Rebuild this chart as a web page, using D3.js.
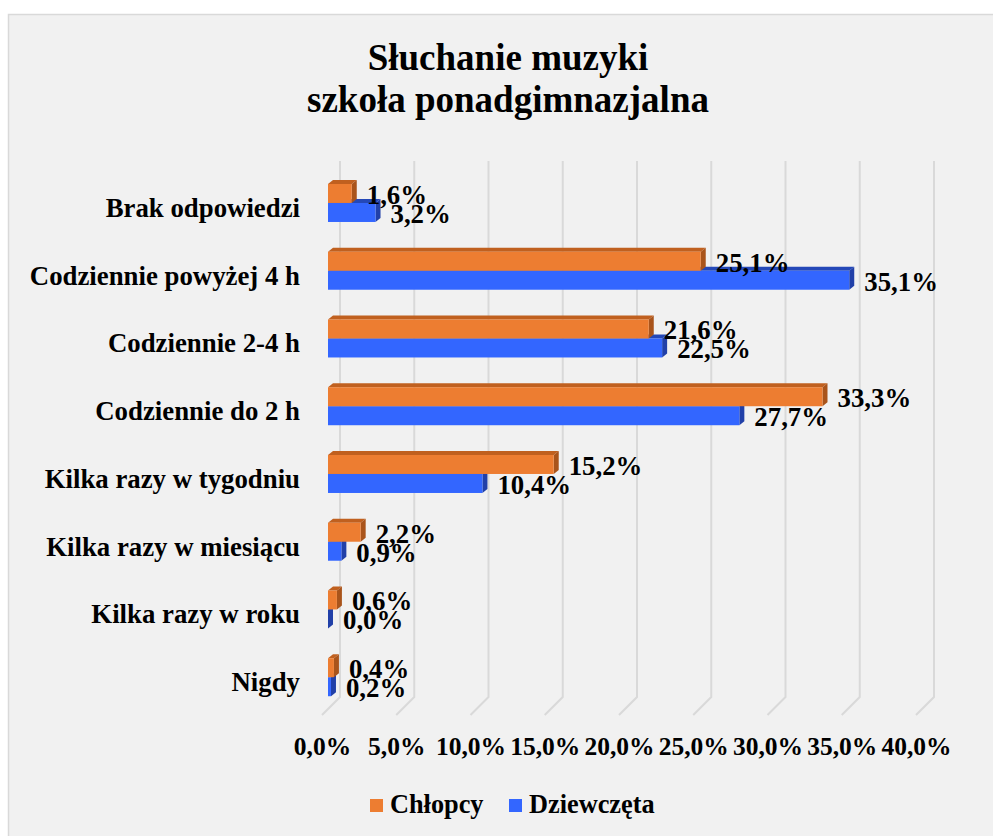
<!DOCTYPE html>
<html>
<head>
<meta charset="utf-8">
<script src="https://cdnjs.cloudflare.com/ajax/libs/d3/7.8.5/d3.min.js"></script>
<style>
  body { margin: 0; background: #fff; }
  text { font-family: "Liberation Serif", "Times New Roman", serif; font-weight: bold; fill: #000; }
</style>
</head>
<body>
<svg id="chart" width="993" height="836"></svg>
<script>
const categories = [
  "Brak odpowiedzi",
  "Codziennie powyżej 4 h",
  "Codziennie 2-4 h",
  "Codziennie do 2 h",
  "Kilka razy w tygodniu",
  "Kilka razy w miesiącu",
  "Kilka razy w roku",
  "Nigdy"
];
const chlopcy = [1.6, 25.1, 21.6, 33.3, 15.2, 2.2, 0.6, 0.4];
const dziewczeta = [3.2, 35.1, 22.5, 27.7, 10.4, 0.9, 0.0, 0.2];
const ticks = [0, 5, 10, 15, 20, 25, 30, 35, 40];
const seriesNames = ["Chłopcy", "Dziewczęta"];

const width = 993, height = 836;
const svg = d3.select("#chart");

// chart area frame
svg.append("rect")
    .attr("x", 8.5).attr("y", 14.5)
    .attr("width", width + 10).attr("height", height + 10)
    .attr("fill", "#f1f1f1")
    .attr("stroke", "#d9d9d9")
    .attr("stroke-width", 1.5);

// title
const title = svg.append("text")
    .attr("text-anchor", "middle")
    .style("font-size", "37px");
title.append("tspan").attr("x", 508).attr("y", 70).text("Słuchanie muzyki");
title.append("tspan").attr("x", 508).attr("y", 112).text("szkoła ponadgimnazjalna");

// 3d layout
const front0 = 322, bar0 = 328, back0 = 340;
const depth = 18;       // wall depth offset
const bd = 5, bdy = 4;  // bar depth offset
const gridTop = 161, floorY = 697;

const x = d3.scaleLinear().domain([0, 40]).range([0, 594]);
const y = d3.scaleBand().domain(categories).range([169.1, 711.1]);
const barH = 19;

const colors = {
  orange: { front: "#ed7d31", top: "#c0601f", side: "#a9541b" },
  blue:   { front: "#3366ff", top: "#2448b8", side: "#2140a8" }
};

// grid
const grid = svg.append("g")
    .attr("fill", "none")
    .attr("stroke", "#d9d9d9")
    .attr("stroke-width", 2);
grid.selectAll("path")
  .data(ticks)
  .enter().append("path")
    .attr("d", d => {
      const bx = back0 + x(d);
      return `M${bx},${gridTop}L${bx},${floorY}L${bx - depth},${floorY + depth}`;
    });

// x axis labels
const axis = d3.axisBottom(d3.scaleLinear().domain([0, 40]).range([front0, front0 + 594]))
    .tickValues(ticks)
    .tickSize(0)
    .tickPadding(0)
    .tickFormat(d => d.toFixed(1).replace(".", ",") + "%");
const ax = svg.append("g")
    .attr("transform", "translate(0,737)")
    .call(axis);
ax.select(".domain").remove();
ax.selectAll("text")
    .attr("dy", null)
    .attr("y", 18)
    .style("font-size", "25.5px")
    .style("font-family", "'Liberation Serif', 'Times New Roman', serif")
    .style("font-weight", "bold")
    .attr("fill", "#000");

// category labels
svg.append("g").selectAll("text")
  .data(categories)
  .enter().append("text")
    .attr("x", 300)
    .attr("y", d => y(d) + y.bandwidth() / 2 + 14)
    .attr("text-anchor", "end")
    .style("font-size", "26.8px")
    .text(d => d);

function drawBar(g, x0, x1, y0, c) {
  const h = barH;
  g.append("path")
      .attr("fill", c.top)
      .attr("d", `M${x0},${y0}L${x0 + bd},${y0 - bdy}L${x1 + bd},${y0 - bdy}L${x1},${y0}Z`);
  g.append("path")
      .attr("fill", c.side)
      .attr("d", `M${x1},${y0}L${x1 + bd},${y0 - bdy}L${x1 + bd},${y0 + h - bdy}L${x1},${y0 + h}Z`);
  g.append("rect")
      .attr("x", x0).attr("y", y0)
      .attr("width", x1 - x0).attr("height", h)
      .attr("fill", c.front);
}

const fmt = v => v.toFixed(1).replace(".", ",") + "%";

const bars = svg.append("g");
categories.forEach((cat, i) => {
  const mid = y(cat) + y.bandwidth() / 2;
  const g = bars.append("g");
  // blue below, orange on top
  drawBar(g, bar0, bar0 + x(dziewczeta[i]), mid, colors.blue);
  drawBar(g, bar0, bar0 + x(chlopcy[i]), mid - barH, colors.orange);
});

// data labels
const labels = svg.append("g").style("font-size", "26.8px");
categories.forEach((cat, i) => {
  const mid = y(cat) + y.bandwidth() / 2;
  labels.append("text")
      .attr("x", bar0 + x(chlopcy[i]) + 15)
      .attr("y", mid + 1)
      .text(fmt(chlopcy[i]));
  labels.append("text")
      .attr("x", bar0 + x(dziewczeta[i]) + 15)
      .attr("y", mid + barH + 1)
      .text(fmt(dziewczeta[i]));
});

// legend
const legendX = [370, 509];
const legendC = [colors.orange.front, colors.blue.front];
const legend = svg.append("g");
seriesNames.forEach((name, i) => {
  legend.append("rect")
      .attr("x", legendX[i]).attr("y", 799)
      .attr("width", 13).attr("height", 13)
      .attr("fill", legendC[i]);
  legend.append("text")
      .attr("x", legendX[i] + 20)
      .attr("y", 813)
      .style("font-size", "26.3px")
      .text(name);
});
</script>
</body>
</html>
